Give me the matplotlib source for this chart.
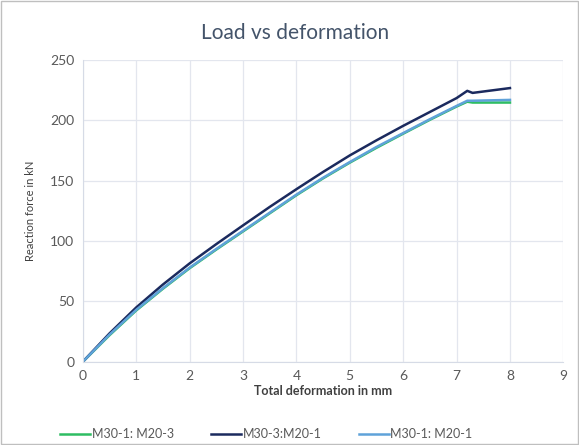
import matplotlib.pyplot as plt

plt.rcParams['font.family'] = ['Lato', 'DejaVu Sans']

# deformation (mm) and reaction force (kN)
defo = [0, 0.5, 1, 1.5, 2, 2.5, 3, 3.5, 4, 4.5, 5, 5.5, 6, 6.5, 7, 7.2, 7.3, 8]
m30_1_m20_3 = [0, 22, 42.5, 60.5, 77.5, 93, 108, 123, 138, 152, 165, 177.3, 189, 200.5, 211.5, 215.5, 214.8, 214.8]
m30_3_m20_1 = [0, 23.5, 45, 64, 81.5, 97.5, 113, 128.3, 143, 157.3, 171, 183.5, 195.5, 207, 218.5, 224.5, 222.8, 226.8]
m30_1_m20_1 = [0, 22.5, 43, 61, 78, 93.5, 108.5, 123.5, 138.5, 152.5, 165.5, 178, 189.5, 201, 212, 216.3, 216.3, 217]

fig = plt.figure(figsize=(5.79, 4.45), dpi=100)
ax = fig.add_axes([0.143, 0.187, 0.83, 0.678])

ax.plot(defo, m30_1_m20_3, color="#2ebd63", lw=1.8, label="M30-1: M20-3")
ax.plot(defo, m30_3_m20_1, color="#1b2a5e", lw=1.8, label="M30-3:M20-1")
ax.plot(defo, m30_1_m20_1, color="#5fa2d9", lw=1.8, label="M30-1: M20-1")

ax.set_xlim(0, 9)
ax.set_ylim(0, 250)
ax.set_xticks(range(0, 10))
ax.set_yticks(range(0, 251, 50))
ax.grid(True, color="#e3e6ee", lw=0.9)
ax.set_axisbelow(True)
for s in ["top", "right"]:
    ax.spines[s].set_visible(False)
ax.spines["left"].set_color("#d6dbe6")
ax.spines["bottom"].set_color("#d6dbe6")
ax.tick_params(length=0, colors="#595959", labelsize=10, pad=6)

ax.set_xlabel("Total deformation in mm", fontsize=9, fontweight="bold", color="#404040", labelpad=2)
ax.set_ylabel("Reaction force in kN", fontsize=8, color="#404040", labelpad=10)
fig.text(0.51, 0.925, "Load vs deformation", ha="center", va="center", fontsize=15, color="#44546a")

fig.legend(loc="lower center", ncol=3, frameon=False, fontsize=9, bbox_to_anchor=(0.46, -0.015),
           handlelength=2.4, handletextpad=0.1, columnspacing=3.0, labelcolor="#595959")

border = plt.Rectangle((0.002, 0.002), 0.996, 0.996, transform=fig.transFigure, fill=False,
                       edgecolor="#bfbfbf", lw=1)
fig.patches.append(border)

fig.savefig("out.png", dpi=100)
